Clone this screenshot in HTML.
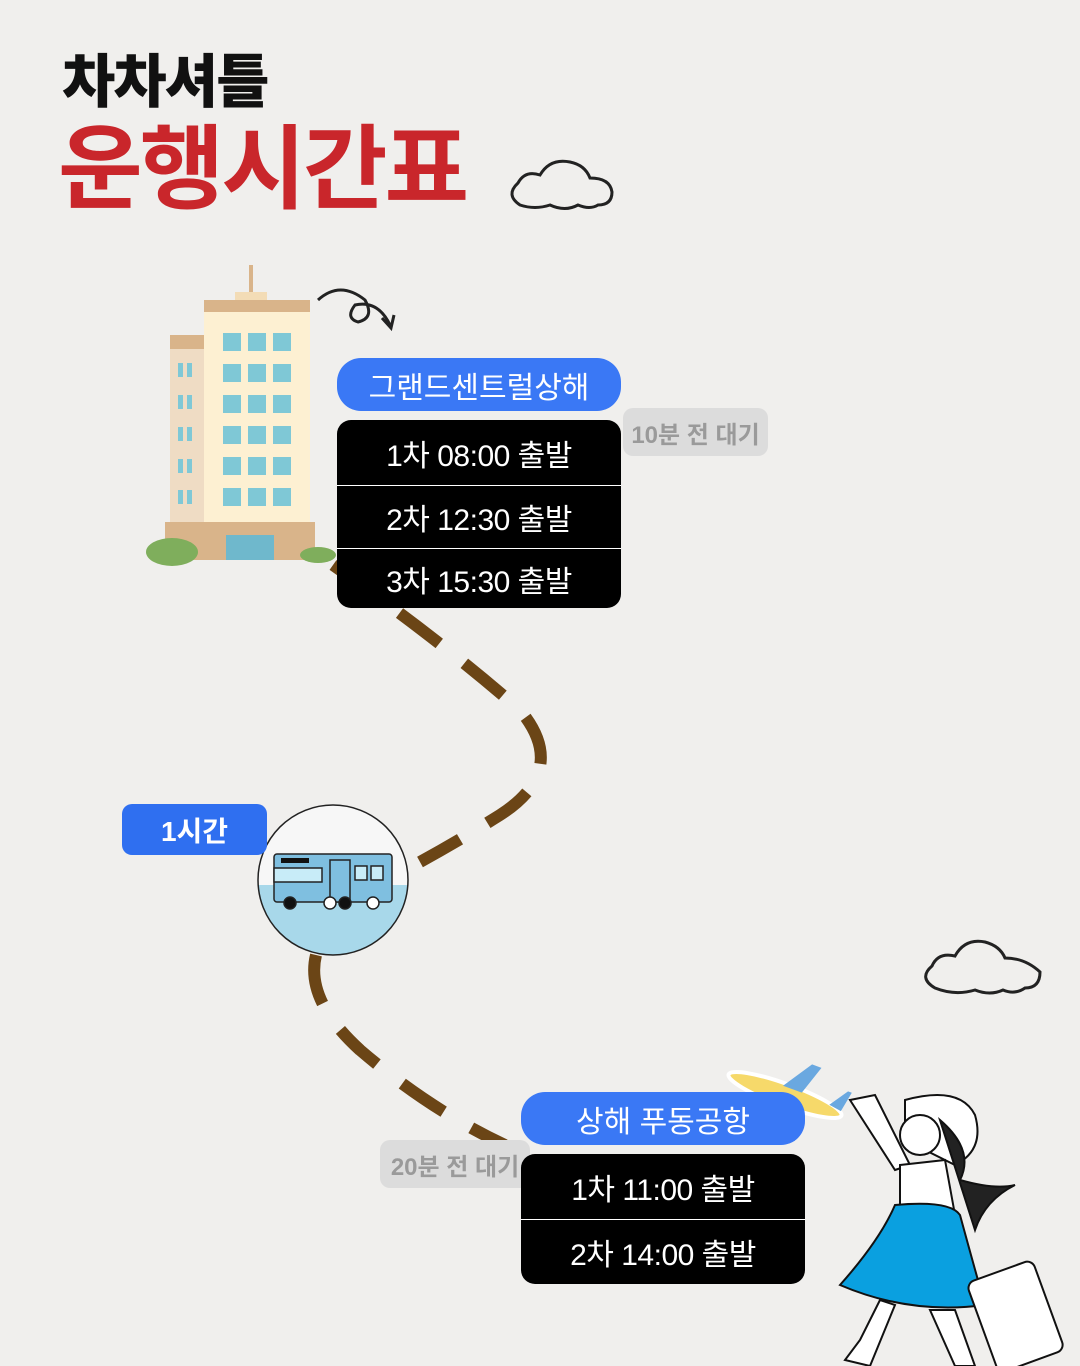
<!DOCTYPE html>
<html><head><meta charset="utf-8"><style>
body{margin:0;width:1080px;height:1366px;overflow:hidden;background:#f0efed;font-family:"Liberation Sans","Noto Sans CJK KR",sans-serif;position:relative}
.a{position:absolute}
.pill{background:#3a78f5;color:#fff;border-radius:24px;text-align:center;font-size:30px;display:flex;align-items:center;justify-content:center}
.box{background:#000;color:#fff;border-radius:14px;overflow:hidden}
.row{display:flex;align-items:center;justify-content:center;font-size:30px;border-top:1px solid #fff;letter-spacing:-0.5px}
.row:first-child{border-top:none}
.tag{background:#dcdcdc;color:#9a9a9a;border-radius:10px;font-size:24px;font-weight:bold;display:flex;align-items:center;justify-content:center}
</style></head><body>
<svg class="a" style="left:0;top:0" width="1080" height="1366">
<g fill="none" stroke="#6b4516" stroke-width="12" stroke-dasharray="50,32">
<path d="M333 565 Q440 640 520 710 Q570 770 500 815 Q460 840 420 862"/>
<path d="M316 955 Q305 1000 360 1050 Q430 1110 505 1145"/>
</g>
<g fill="none" stroke="#222" stroke-width="3">
<path d="M520 205 Q505 195 518 183 Q525 170 540 175 Q550 158 570 162 Q585 165 590 178 Q610 178 612 192 Q612 205 598 205 Q590 210 578 205 Q565 212 550 205 Q535 210 520 205Z"/>
<path d="M935 988 Q918 978 932 966 Q938 952 955 956 Q965 938 985 942 Q1000 946 1005 958 Q1025 958 1040 972 Q1040 988 1025 988 Q1015 995 1003 990 Q990 996 975 990 Q955 996 935 988Z"/>
<path d="M318 300 Q340 280 365 300 Q375 318 358 322 Q345 318 355 305 Q378 300 390 325"/>
<path d="M382 318 L391 328 L394 315"/>
</g>
<rect x="249" y="265" width="4" height="32" fill="#d9b48a"/>
<rect x="235" y="292" width="32" height="12" fill="#f3dcb6"/>
<rect x="204" y="300" width="106" height="14" fill="#d9b48a"/>
<rect x="170" y="335" width="36" height="225" fill="#efdcc4"/>
<rect x="170" y="335" width="36" height="14" fill="#d9b48a"/>
<rect x="204" y="312" width="106" height="248" fill="#fdf0d2"/>
<g fill="#7fc8d6">
<rect x="223" y="333" width="18" height="18"/><rect x="248" y="333" width="18" height="18"/><rect x="273" y="333" width="18" height="18"/>
<rect x="223" y="364" width="18" height="18"/><rect x="248" y="364" width="18" height="18"/><rect x="273" y="364" width="18" height="18"/>
<rect x="223" y="395" width="18" height="18"/><rect x="248" y="395" width="18" height="18"/><rect x="273" y="395" width="18" height="18"/>
<rect x="223" y="426" width="18" height="18"/><rect x="248" y="426" width="18" height="18"/><rect x="273" y="426" width="18" height="18"/>
<rect x="223" y="457" width="18" height="18"/><rect x="248" y="457" width="18" height="18"/><rect x="273" y="457" width="18" height="18"/>
<rect x="223" y="488" width="18" height="18"/><rect x="248" y="488" width="18" height="18"/><rect x="273" y="488" width="18" height="18"/>
<rect x="178" y="363" width="5" height="14"/><rect x="187" y="363" width="5" height="14"/>
<rect x="178" y="395" width="5" height="14"/><rect x="187" y="395" width="5" height="14"/>
<rect x="178" y="427" width="5" height="14"/><rect x="187" y="427" width="5" height="14"/>
<rect x="178" y="459" width="5" height="14"/><rect x="187" y="459" width="5" height="14"/>
<rect x="178" y="490" width="5" height="14"/><rect x="187" y="490" width="5" height="14"/>
</g>
<rect x="165" y="522" width="150" height="38" fill="#d9b48a"/>
<rect x="226" y="535" width="48" height="25" fill="#6fb8cc"/>
<ellipse cx="172" cy="552" rx="26" ry="14" fill="#7fae5c"/>
<ellipse cx="318" cy="555" rx="18" ry="8" fill="#7fae5c"/>
<clipPath id="c"><circle cx="333" cy="880" r="75"/></clipPath>
<circle cx="333" cy="880" r="75" fill="#f7f7f7"/>
<rect x="250" y="885" width="170" height="80" fill="#a8d8ea" clip-path="url(#c)"/>
<circle cx="333" cy="880" r="75" fill="none" stroke="#222" stroke-width="1.5"/>
<g stroke="#222" stroke-width="1.5">
<rect x="274" y="854" width="118" height="48" rx="3" fill="#7fbfe0"/>
<rect x="274" y="868" width="48" height="14" fill="#c8ecf8"/>
<rect x="330" y="860" width="20" height="42" fill="#7fbfe0"/>
<rect x="355" y="866" width="12" height="14" fill="#c8ecf8"/><rect x="371" y="866" width="12" height="14" fill="#c8ecf8"/>
<circle cx="290" cy="903" r="6" fill="#111"/><circle cx="330" cy="903" r="6" fill="#fff"/><circle cx="345" cy="903" r="6" fill="#111"/><circle cx="373" cy="903" r="6" fill="#fff"/>
</g>
<rect x="281" y="858" width="28" height="5" fill="#111"/>
<g transform="translate(785 1095) rotate(20)">
<ellipse cx="0" cy="0" rx="60" ry="11" fill="#f6d96a" stroke="#fff" stroke-width="4"/>
<path d="M-5 -8 L15 -38 L25 -38 L15 -8Z M-5 8 L15 40 L25 40 L15 8Z M45 -6 L58 -25 L62 -25 L58 -4Z" fill="#6aa8e0"/>
</g>
<g stroke="#111" stroke-width="2">
<path d="M905 1100 Q960 1085 975 1115 Q985 1150 955 1165 L905 1140Z" fill="#fff"/>
<path d="M940 1120 Q975 1150 960 1180 Q995 1190 1015 1185 Q985 1200 975 1230 Z" fill="#222"/>
<path d="M850 1100 L875 1095 L910 1165 L895 1170Z" fill="#fff"/>
<circle cx="920" cy="1135" r="20" fill="#fff"/>
<path d="M900 1165 L945 1160 L955 1215 L900 1215Z" fill="#fff"/>
<path d="M895 1205 Q950 1200 960 1215 Q975 1270 985 1305 Q910 1315 840 1285 Q880 1240 895 1205Z" fill="#0aa0e0"/>
<path d="M880 1300 L860 1340 L845 1360 L870 1366 L895 1305Z M930 1310 L955 1366 L975 1366 L955 1310Z" fill="#fff"/>
<rect x="978" y="1270" width="70" height="96" rx="8" fill="#fff" transform="rotate(-20 1010 1310)"/>
</g>
</svg>
<div class="a" style="left:62px;top:50px;font-size:58px;font-weight:900;color:#111;letter-spacing:-2px;line-height:66px">차차셔틀</div>
<div class="a" style="left:58px;top:117px;font-size:92px;font-weight:bold;color:#c9262b;letter-spacing:-3px;line-height:106px">운행시간표</div>

<div class="a pill" style="left:337px;top:358px;width:284px;height:53px">그랜드센트럴상해</div>
<div class="a tag" style="left:623px;top:408px;width:145px;height:48px">10분 전 대기</div>
<div class="a box" style="left:337px;top:420px;width:284px;height:188px">
<div class="row" style="height:65px">1차 08:00 출발</div>
<div class="row" style="height:62px">2차 12:30 출발</div>
<div class="row" style="height:60px">3차 15:30 출발</div>
</div>

<div class="a" style="left:122px;top:804px;width:145px;height:51px;background:#2f6ff0;color:#fff;border-radius:10px;font-size:28px;font-weight:bold;display:flex;align-items:center;justify-content:center">1시간</div>

<div class="a tag" style="left:380px;top:1140px;width:150px;height:48px">20분 전 대기</div>
<div class="a pill" style="left:521px;top:1092px;width:284px;height:53px">상해 푸동공항</div>
<div class="a box" style="left:521px;top:1154px;width:284px;height:130px">
<div class="row" style="height:65px">1차 11:00 출발</div>
<div class="row" style="height:64px">2차 14:00 출발</div>
</div>
</body></html>
